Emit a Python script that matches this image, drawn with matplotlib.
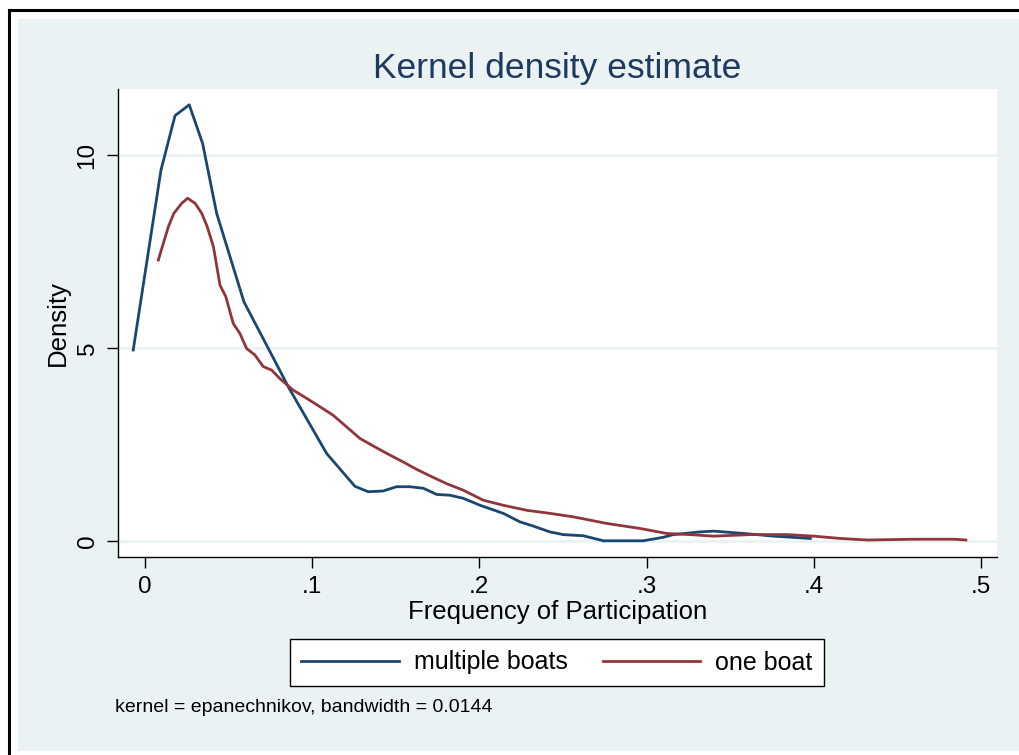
import matplotlib
matplotlib.use('Agg')
import matplotlib.pyplot as plt
from matplotlib.patches import Rectangle
from matplotlib.lines import Line2D

# multiple boats
x_multi = [-0.007, 0.0096, 0.018, 0.0265, 0.0345, 0.0429, 0.0592, 0.0837, 0.0857,
           0.1087, 0.1256, 0.1336, 0.1425, 0.1505, 0.1585, 0.1665, 0.1745, 0.1824,
           0.1904, 0.2004, 0.2143, 0.2243, 0.2323, 0.2422, 0.2502, 0.2622, 0.2742,
           0.298, 0.31, 0.316, 0.332, 0.34, 0.358, 0.376, 0.398]
y_multi = [4.95, 9.61, 11.02, 11.3, 10.3, 8.49, 6.2, 4.17, 4.0,
           2.27, 1.42, 1.28, 1.30, 1.41, 1.41, 1.37, 1.21, 1.19,
           1.11, 0.93, 0.72, 0.50, 0.39, 0.24, 0.17, 0.14, 0.01,
           0.01, 0.10, 0.17, 0.24, 0.26, 0.20, 0.13, 0.07]

# one boat
x_one = [0.008, 0.011, 0.014, 0.0173, 0.022, 0.0255, 0.030, 0.034, 0.0373, 0.041,
         0.0449, 0.0484, 0.0528, 0.0568, 0.0608, 0.0658, 0.0708, 0.0758, 0.0807,
         0.0887, 0.0967, 0.1047, 0.1126, 0.1206, 0.1286, 0.1376, 0.1465, 0.1545,
         0.1625, 0.1715, 0.1804, 0.1904, 0.2024, 0.2143, 0.2283, 0.2422, 0.2562,
         0.2761, 0.296, 0.312, 0.326, 0.34, 0.362, 0.384, 0.40, 0.416, 0.432,
         0.46, 0.484, 0.491]
y_one = [7.28, 7.71, 8.14, 8.49, 8.75, 8.88, 8.75, 8.49, 8.14, 7.62,
         6.63, 6.33, 5.64, 5.38, 4.99, 4.82, 4.52, 4.43, 4.21,
         3.91, 3.70, 3.48, 3.26, 2.96, 2.66, 2.44, 2.23, 2.05,
         1.86, 1.67, 1.49, 1.32, 1.06, 0.93, 0.80, 0.72, 0.63,
         0.46, 0.33, 0.20, 0.17, 0.13, 0.17, 0.17, 0.13, 0.07, 0.03,
         0.05, 0.05, 0.03]

x_ticks = [0, 0.1, 0.2, 0.3, 0.4, 0.5]
x_labels = ['0', '.1', '.2', '.3', '.4', '.5']
y_ticks = [0, 5, 10]
y_labels = ['0', '5', '10']

bg = '#eaf2f3'
blue = '#1a476f'
red = '#90353b'

plt.rcParams['font.family'] = ['Liberation Sans', 'DejaVu Sans']

W, H = 1020, 755
fig = plt.figure(figsize=(10.2, 7.55), dpi=100)
fig.patch.set_facecolor('white')

# light graph region and black frame
fig.patches.append(Rectangle((18 / W, 1 - 751 / H), 1 - 18 / W, (751 - 19) / H,
                             transform=fig.transFigure, facecolor=bg, edgecolor='none', zorder=-5))
fig.add_artist(Line2D([9 / W, 9 / W], [1 - 753 / H, 1 - 10 / H], color='black', lw=2.2,
                      transform=fig.transFigure, zorder=-4))
fig.add_artist(Line2D([9 / W, 1], [1 - 10 / H, 1 - 10 / H], color='black', lw=2.2,
                      transform=fig.transFigure, zorder=-4))

ax = fig.add_axes([118 / W, 1 - 557 / H, (997 - 118) / W, (557 - 89) / H])
ax.set_zorder(1)
ax.set_facecolor('white')
ax.set_xlim(-0.0161, 0.5096)
ax.set_ylim(-0.41, 11.71)

for v in y_ticks:
    ax.axhline(v, color=bg, lw=2, zorder=1)

ax.plot(x_multi, y_multi, color=blue, lw=2, zorder=3, label='multiple boats')
ax.plot(x_one, y_one, color=red, lw=2, zorder=3, label='one boat')

for s in ['top', 'right']:
    ax.spines[s].set_visible(False)
for s in ['left', 'bottom']:
    ax.spines[s].set_linewidth(1.0)

ax.set_xticks(x_ticks)
ax.set_xticklabels(x_labels)
ax.set_yticks(y_ticks)
ax.set_yticklabels(y_labels, rotation=90, va='center')
ax.tick_params(direction='out', length=8, width=1, labelsize=17.5, pad=6)

ax.set_xlabel('Frequency of Participation', fontsize=18.5, labelpad=1)
ax.set_ylabel('Density', fontsize=18.5, labelpad=5)
ax.set_title('Kernel density estimate', fontsize=25.5, color='#1e3a5f', pad=8)

leg = fig.legend(loc='center', bbox_to_anchor=(557 / W, 1 - 662.5 / H), ncol=2,
                 frameon=True, fancybox=False, edgecolor='black', facecolor='white',
                 framealpha=1, handlelength=3.9, handletextpad=0.6, columnspacing=1.4,
                 borderpad=0.45, prop={'size': 18})
leg.get_frame().set_linewidth(1.0)

fig.text(115 / W, 1 - 708 / H, 'kernel = epanechnikov, bandwidth = 0.0144',
         fontsize=14, va='center', ha='left')

fig.savefig('out.png', dpi=100)
